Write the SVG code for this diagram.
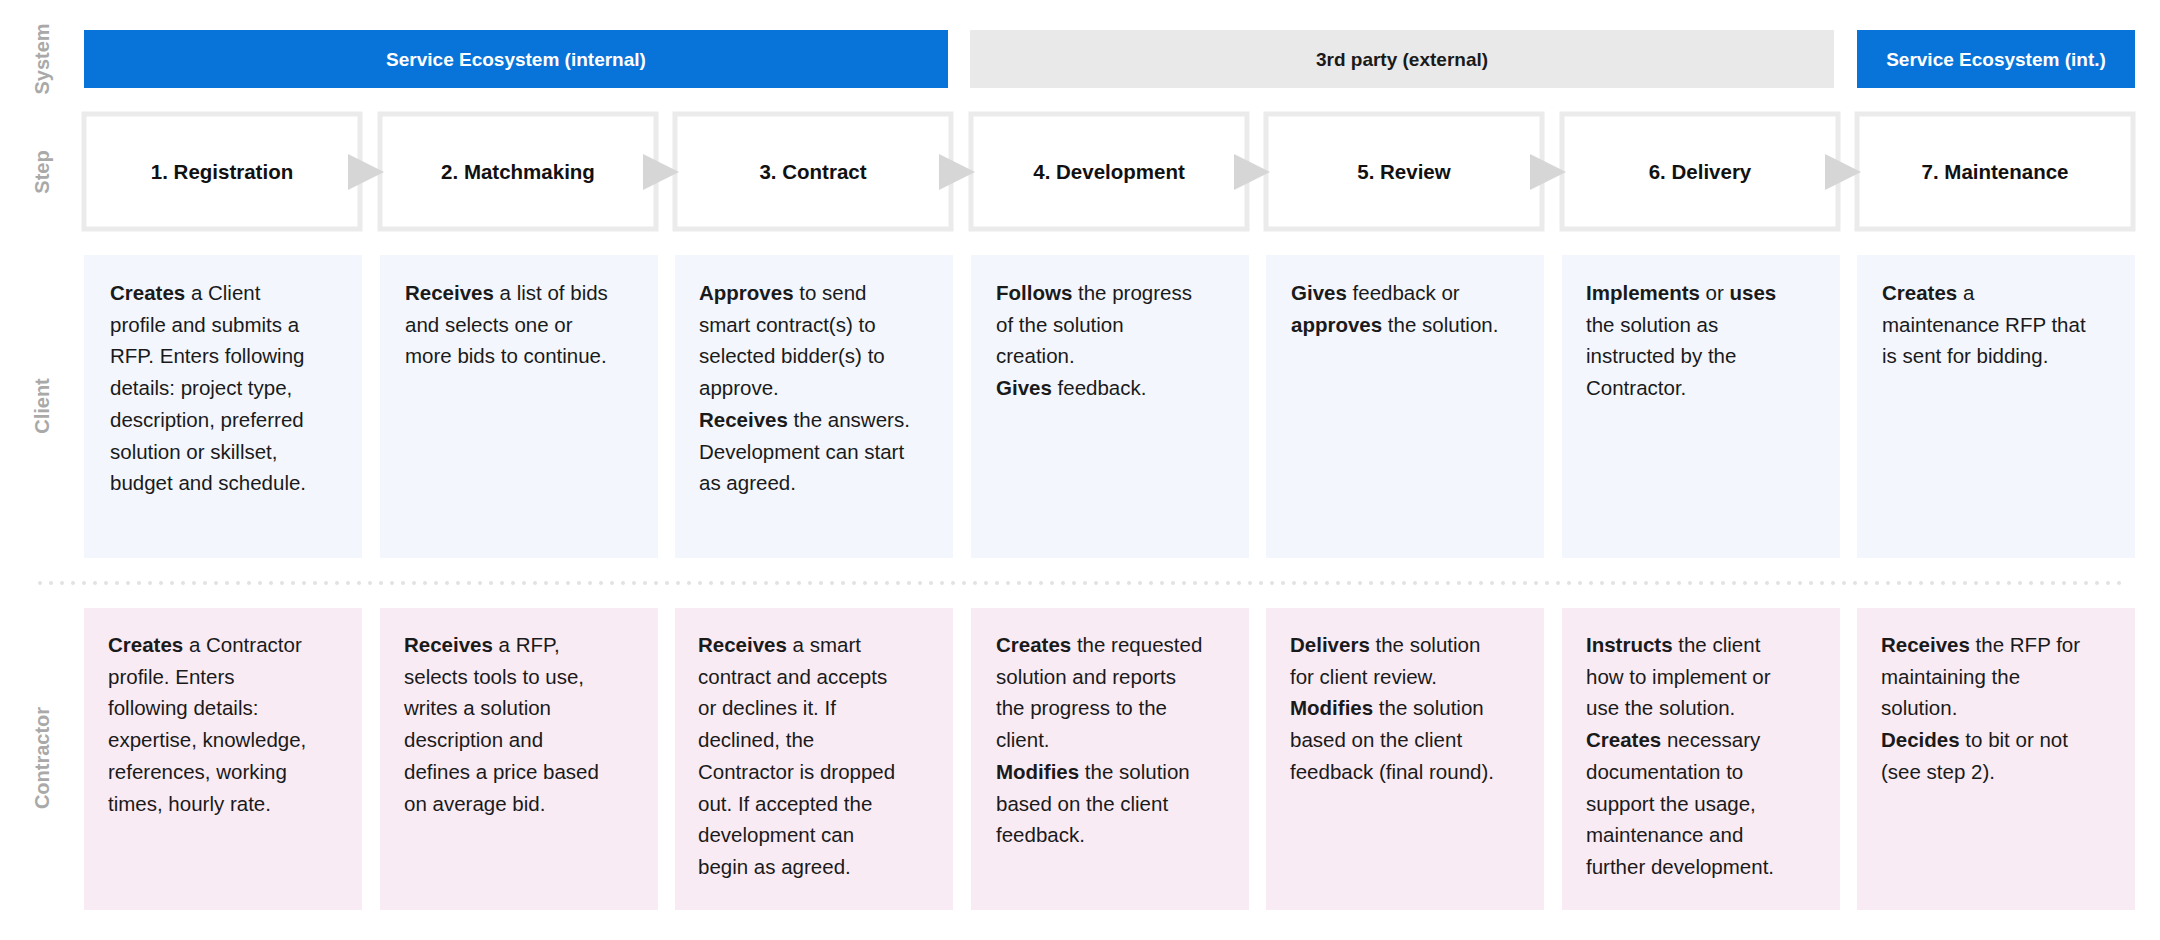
<svg xmlns="http://www.w3.org/2000/svg" width="2160" height="940" viewBox="0 0 2160 940">
<style>
.lbl{font-family:"Liberation Sans",Arial,sans-serif;font-weight:bold;font-size:20px;fill:#a9a9a9}
.bar{font-family:"Liberation Sans",Arial,sans-serif;font-weight:bold;font-size:19px;text-anchor:middle}
.step rect{fill:#fff;stroke:#ebebeb;stroke-width:5}
.st{font-family:"Liberation Sans",Arial,sans-serif;font-weight:bold;font-size:20.5px;fill:#111;text-anchor:middle}
.body{font-family:"Liberation Sans",Arial,sans-serif;font-size:20.5px;fill:#1a1a1a}
.body tspan.b{font-weight:bold}
.cl{fill:#f3f6fd}
.co{fill:#f9ebf4}
.arr{fill:#d6d6d6}
</style>
<rect width="2160" height="940" fill="#fff"/>
<g id="row-labels">
<text class="lbl" transform="translate(49,59) rotate(-90)" text-anchor="middle">System</text>
<text class="lbl" transform="translate(49,172) rotate(-90)" text-anchor="middle">Step</text>
<text class="lbl" transform="translate(49,406) rotate(-90)" text-anchor="middle">Client</text>
<text class="lbl" transform="translate(49,758) rotate(-90)" text-anchor="middle">Contractor</text>
</g>
<g id="system-bars">
<rect x="84" y="30" width="864" height="58" fill="#0874d9"/>
<text class="bar" x="516" y="66" fill="#fff">Service Ecosystem (internal)</text>
<rect x="970" y="30" width="864" height="58" fill="#e9e9e9"/>
<text class="bar" x="1402" y="66" fill="#1a1a1a">3rd party (external)</text>
<rect x="1857" y="30" width="278" height="58" fill="#0874d9"/>
<text class="bar" x="1996" y="66" fill="#fff">Service Ecosystem (int.)</text>
</g>
<g id="steps">
<g id="step1" class="step"><rect x="84" y="114" width="276" height="115"/><text class="st" x="222" y="179">1. Registration</text></g>
<g id="step2" class="step"><rect x="380" y="114" width="276" height="115"/><text class="st" x="518" y="179">2. Matchmaking</text></g>
<g id="step3" class="step"><rect x="675" y="114" width="276" height="115"/><text class="st" x="813" y="179">3. Contract</text></g>
<g id="step4" class="step"><rect x="971" y="114" width="276" height="115"/><text class="st" x="1109" y="179">4. Development</text></g>
<g id="step5" class="step"><rect x="1266" y="114" width="276" height="115"/><text class="st" x="1404" y="179">5. Review</text></g>
<g id="step6" class="step"><rect x="1562" y="114" width="276" height="115"/><text class="st" x="1700" y="179">6. Delivery</text></g>
<g id="step7" class="step"><rect x="1857" y="114" width="276" height="115"/><text class="st" x="1995" y="179">7. Maintenance</text></g>
</g>
<g id="connectors">
<polygon class="arr" points="348,154 384,172 348,190"/>
<polygon class="arr" points="643,154 679,172 643,190"/>
<polygon class="arr" points="939,154 975,172 939,190"/>
<polygon class="arr" points="1234,154 1270,172 1234,190"/>
<polygon class="arr" points="1530,154 1566,172 1530,190"/>
<polygon class="arr" points="1825,154 1861,172 1825,190"/>
</g>
<line id="divider" x1="40" y1="583" x2="2130" y2="583" stroke="#e2e2e2" stroke-width="4" stroke-linecap="round" stroke-dasharray="0 11"/>
<g id="client">
<g id="client1"><rect class="cl" x="84" y="255" width="278" height="303"/>
<text class="body" y="300"><tspan x="110" class="b">Creates</tspan> a Client<tspan x="110" dy="31.7">profile and submits a</tspan><tspan x="110" dy="31.7">RFP. Enters following</tspan><tspan x="110" dy="31.7">details: project type,</tspan><tspan x="110" dy="31.7">description, preferred</tspan><tspan x="110" dy="31.7">solution or skillset,</tspan><tspan x="110" dy="31.7">budget and schedule.</tspan></text></g>
<g id="client2"><rect class="cl" x="380" y="255" width="278" height="303"/>
<text class="body" y="300"><tspan x="405" class="b">Receives</tspan> a list of bids<tspan x="405" dy="31.7">and selects one or</tspan><tspan x="405" dy="31.7">more bids to continue.</tspan></text></g>
<g id="client3"><rect class="cl" x="675" y="255" width="278" height="303"/>
<text class="body" y="300"><tspan x="699" class="b">Approves</tspan> to send<tspan x="699" dy="31.7">smart contract(s) to</tspan><tspan x="699" dy="31.7">selected bidder(s) to</tspan><tspan x="699" dy="31.7">approve.</tspan><tspan x="699" dy="31.7" class="b">Receives</tspan> the answers.<tspan x="699" dy="31.7">Development can start</tspan><tspan x="699" dy="31.7">as agreed.</tspan></text></g>
<g id="client4"><rect class="cl" x="971" y="255" width="278" height="303"/>
<text class="body" y="300"><tspan x="996" class="b">Follows</tspan> the progress<tspan x="996" dy="31.7">of the solution</tspan><tspan x="996" dy="31.7">creation.</tspan><tspan x="996" dy="31.7" class="b">Gives</tspan> feedback.</text></g>
<g id="client5"><rect class="cl" x="1266" y="255" width="278" height="303"/>
<text class="body" y="300"><tspan x="1291" class="b">Gives</tspan> feedback or<tspan x="1291" dy="31.7" class="b">approves</tspan> the solution.</text></g>
<g id="client6"><rect class="cl" x="1562" y="255" width="278" height="303"/>
<text class="body" y="300"><tspan x="1586" class="b">Implements</tspan> or <tspan class="b">uses</tspan><tspan x="1586" dy="31.7">the solution as</tspan><tspan x="1586" dy="31.7">instructed by the</tspan><tspan x="1586" dy="31.7">Contractor.</tspan></text></g>
<g id="client7"><rect class="cl" x="1857" y="255" width="278" height="303"/>
<text class="body" y="300"><tspan x="1882" class="b">Creates</tspan> a<tspan x="1882" dy="31.7">maintenance RFP that</tspan><tspan x="1882" dy="31.7">is sent for bidding.</tspan></text></g>
</g>
<g id="contractor">
<g id="con1"><rect class="co" x="84" y="608" width="278" height="302"/>
<text class="body" y="652"><tspan x="108" class="b">Creates</tspan> a Contractor<tspan x="108" dy="31.7">profile. Enters</tspan><tspan x="108" dy="31.7">following details:</tspan><tspan x="108" dy="31.7">expertise, knowledge,</tspan><tspan x="108" dy="31.7">references, working</tspan><tspan x="108" dy="31.7">times, hourly rate.</tspan></text></g>
<g id="con2"><rect class="co" x="380" y="608" width="278" height="302"/>
<text class="body" y="652"><tspan x="404" class="b">Receives</tspan> a RFP,<tspan x="404" dy="31.7">selects tools to use,</tspan><tspan x="404" dy="31.7">writes a solution</tspan><tspan x="404" dy="31.7">description and</tspan><tspan x="404" dy="31.7">defines a price based</tspan><tspan x="404" dy="31.7">on average bid.</tspan></text></g>
<g id="con3"><rect class="co" x="675" y="608" width="278" height="302"/>
<text class="body" y="652"><tspan x="698" class="b">Receives</tspan> a smart<tspan x="698" dy="31.7">contract and accepts</tspan><tspan x="698" dy="31.7">or declines it. If</tspan><tspan x="698" dy="31.7">declined, the</tspan><tspan x="698" dy="31.7">Contractor is dropped</tspan><tspan x="698" dy="31.7">out. If accepted the</tspan><tspan x="698" dy="31.7">development can</tspan><tspan x="698" dy="31.7">begin as agreed.</tspan></text></g>
<g id="con4"><rect class="co" x="971" y="608" width="278" height="302"/>
<text class="body" y="652"><tspan x="996" class="b">Creates</tspan> the requested<tspan x="996" dy="31.7">solution and reports</tspan><tspan x="996" dy="31.7">the progress to the</tspan><tspan x="996" dy="31.7">client.</tspan><tspan x="996" dy="31.7" class="b">Modifies</tspan> the solution<tspan x="996" dy="31.7">based on the client</tspan><tspan x="996" dy="31.7">feedback.</tspan></text></g>
<g id="con5"><rect class="co" x="1266" y="608" width="278" height="302"/>
<text class="body" y="652"><tspan x="1290" class="b">Delivers</tspan> the solution<tspan x="1290" dy="31.7">for client review.</tspan><tspan x="1290" dy="31.7" class="b">Modifies</tspan> the solution<tspan x="1290" dy="31.7">based on the client</tspan><tspan x="1290" dy="31.7">feedback (final round).</tspan></text></g>
<g id="con6"><rect class="co" x="1562" y="608" width="278" height="302"/>
<text class="body" y="652"><tspan x="1586" class="b">Instructs</tspan> the client<tspan x="1586" dy="31.7">how to implement or</tspan><tspan x="1586" dy="31.7">use the solution.</tspan><tspan x="1586" dy="31.7" class="b">Creates</tspan> necessary<tspan x="1586" dy="31.7">documentation to</tspan><tspan x="1586" dy="31.7">support the usage,</tspan><tspan x="1586" dy="31.7">maintenance and</tspan><tspan x="1586" dy="31.7">further development.</tspan></text></g>
<g id="con7"><rect class="co" x="1857" y="608" width="278" height="302"/>
<text class="body" y="652"><tspan x="1881" class="b">Receives</tspan> the RFP for<tspan x="1881" dy="31.7">maintaining the</tspan><tspan x="1881" dy="31.7">solution.</tspan><tspan x="1881" dy="31.7" class="b">Decides</tspan> to bit or not<tspan x="1881" dy="31.7">(see step 2).</tspan></text></g>
</g>
</svg>
